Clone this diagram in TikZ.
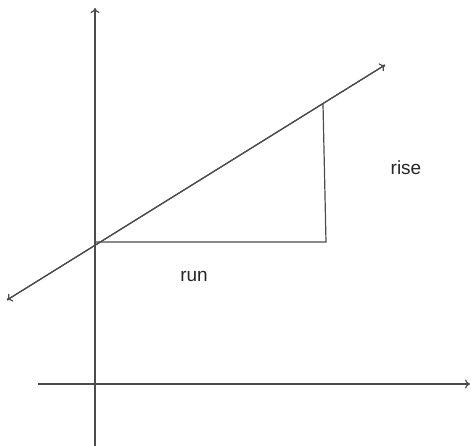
\documentclass[tikz,border=0pt]{standalone}
\usepackage{fontspec}
\setmainfont{Liberation Sans}
\usetikzlibrary{arrows.meta}
\begin{document}
\begin{tikzpicture}[x=1pt,y=-1pt,
  axis/.style={draw=black!70,line width=1.2pt},
  arr/.style={-{To[length=5pt,width=9pt]}},
  lbl/.style={font=\fontsize{19}{22}\selectfont,inner sep=0pt,text=black!85}]
\useasboundingbox (0,0) rectangle (471,446);
\coordinate (ytop) at (95,8);
\coordinate (ybot) at (95,446);
\coordinate (xl) at (38,384);
\coordinate (xr) at (470,384);
\coordinate (la) at (7,300);
\coordinate (lb) at (385,65);
\coordinate (p0) at (95,242);
\coordinate (p1) at (326,242);
\coordinate (p2) at (323,104);
\draw[axis,arr] (ybot) -- (ytop);
\draw[axis,arr] (xl) -- (xr);
\draw[axis,arr] (lb) -- (la);
\draw[axis,arr] (la) -- (lb);
\draw[axis] (p0) -- (p1) -- (p2);
\node[lbl] (rise) at (406,168) {rise};
\node[lbl] (run) at (194,276) {run};
\end{tikzpicture}
\end{document}
